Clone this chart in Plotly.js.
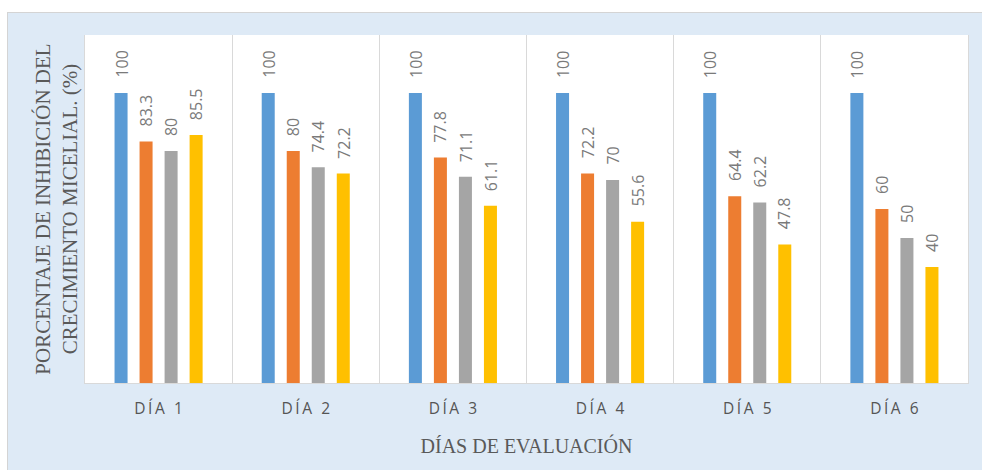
<!DOCTYPE html>
<html>
<head>
<meta charset="utf-8">
<script src="https://cdn.plot.ly/plotly-3.0.1.min.js"></script>
<style>
  html, body { margin: 0; padding: 0; background: #ffffff; width: 982px; height: 470px; overflow: hidden; }
  #wrap { position: absolute; left: 7px; top: 12px; width: 975px; height: 458px;
          border-left: 1px solid #d4d4d4; border-top: 1px solid #d4d4d4; background: #DEEAF6; }
  #chart { width: 974px; height: 457px; }
</style>
</head>
<body>
<div id="wrap"><div id="chart"></div></div>
<script>
// ---- data ----
const categories = ["DÍA 1", "DÍA 2", "DÍA 3", "DÍA 4", "DÍA 5", "DÍA 6"];
const serie1 = [100, 100, 100, 100, 100, 100];
const serie2 = [83.3, 80, 77.8, 72.2, 64.4, 60];
const serie3 = [80, 74.4, 71.1, 70, 62.2, 50];
const serie4 = [85.5, 72.2, 61.1, 55.6, 47.8, 40];
const seriesNames = ["Serie 1", "Serie 2", "Serie 3", "Serie 4"];
const xTitle = "DÍAS DE EVALUACIÓN";
const yTitle = "PORCENTAJE DE INHIBICIÓN DEL<br>CRECIMIENTO MICELIAL. (%)";

const colors = ["#5B9BD5", "#ED7D31", "#A5A5A5", "#FFC000"];
const allSeries = [serie1, serie2, serie3, serie4];

const traces = allSeries.map((vals, i) => ({
  type: "bar",
  name: seriesNames[i],
  x: categories,
  y: vals,
  marker: { color: colors[i], line: { width: 0 } },
  hoverinfo: "x+y+name"
}));

// tick labels with extra letter spacing (thin spaces)
const tickText = categories.map(c => c.split("").join("\u2009"));

// data labels, rotated, above each bar
const nS = allSeries.length;
const catWidthPx = (968 - 85) / categories.length;
const bargap = 0.32;
const slot = catWidthPx * (1 - bargap) / nS;
const annotations = [];
allSeries.forEach((vals, i) => {
  vals.forEach((v, j) => {
    annotations.push({
      x: j, y: v, xref: "x", yref: "y",
      xshift: (i - (nS - 1) / 2) * slot,
      yshift: 13,
      text: String(v),
      textangle: -90,
      showarrow: false,
      xanchor: "center", yanchor: "bottom",
      font: { family: "Open Sans, sans-serif", size: 16, color: "#7a7a7a" }
    });
  });
});

const layout = {
  width: 974, height: 457,
  margin: { l: 77, r: 14, t: 22, b: 87 },
  paper_bgcolor: "#DEEAF6",
  plot_bgcolor: "#ffffff",
  barmode: "group",
  bargap: bargap,
  bargroupgap: 0.48,
  showlegend: false,
  xaxis: {
    type: "category",
    tickmode: "array",
    tickvals: categories,
    ticktext: tickText,
    tickson: "boundaries",
    ticks: "",
    showgrid: true,
    gridcolor: "#d9d9d9",
    gridwidth: 1,
    showline: true,
    linecolor: "#d9d9d9",
    linewidth: 1,
    ticklabelstandoff: 11,
    tickfont: { family: "Open Sans, sans-serif", size: 15.5, color: "#555555" },
    title: {
      text: xTitle,
      standoff: 21,
      font: { family: "Liberation Serif, Times New Roman, serif", size: 20, color: "#595959" }
    },
    automargin: false,
    fixedrange: true
  },
  yaxis: {
    range: [0, 120],
    showticklabels: false,
    ticks: "",
    showgrid: false,
    zeroline: false,
    showline: true,
    mirror: true,
    linecolor: "#d9d9d9",
    linewidth: 1,
    title: {
      text: yTitle,
      standoff: 0,
      font: { family: "Liberation Serif, Times New Roman, serif", size: 21, color: "#595959" }
    },
    automargin: false,
    fixedrange: true
  },
  annotations: annotations,
  font: { family: "Open Sans, sans-serif", color: "#595959" }
};

Plotly.newPlot("chart", traces, layout, { displayModeBar: false, staticPlot: true });
</script>
</body>
</html>
